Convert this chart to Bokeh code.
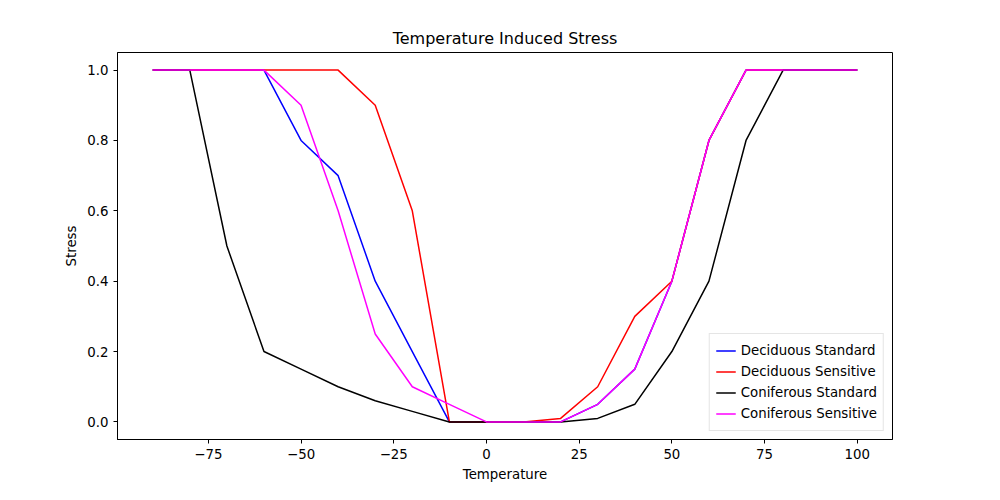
from bokeh.plotting import figure
from bokeh.models import Range1d, FixedTicker, Legend, NumeralTickFormatter
from bokeh.embed import file_html
from bokeh.resources import INLINE

temps = [-90, -80, -70, -60, -50, -40, -30, -20, -10, 0, 10, 20, 30, 40, 50, 60, 70, 80, 90, 100]
decid_std = [1, 1, 1, 1, 0.8, 0.7, 0.4, 0.2, 0, 0, 0, 0, 0.05, 0.15, 0.4, 0.8, 1, 1, 1, 1]
decid_sens = [1, 1, 1, 1, 1, 1, 0.9, 0.6, 0, 0, 0, 0.01, 0.1, 0.3, 0.4, 0.8, 1, 1, 1, 1]
conif_std = [1, 1, 0.5, 0.2, 0.15, 0.1, 0.06, 0.03, 0, 0, 0, 0, 0.01, 0.05, 0.2, 0.4, 0.8, 1, 1, 1]
conif_sens = [1, 1, 1, 1, 0.9, 0.6, 0.25, 0.1, 0.05, 0, 0, 0, 0.05, 0.15, 0.4, 0.8, 1, 1, 1, 1]

series = [
    ("Deciduous Standard", decid_std, "blue"),
    ("Deciduous Sensitive", decid_sens, "red"),
    ("Coniferous Standard", conif_std, "black"),
    ("Coniferous Sensitive", conif_sens, "magenta"),
]

font = "DejaVu Sans"
p = figure(width=984, height=484, output_backend="svg", toolbar_location=None,
           x_range=Range1d(-99.5, 109.5), y_range=Range1d(-0.05, 1.05),
           min_border_left=117, min_border_right=92, min_border_top=52, min_border_bottom=39,
           title="Temperature Induced Stress")
p.title.align = "center"
p.title.text_font = font
p.title.text_font_size = "12pt"
p.title.text_font_style = "normal"
p.title.text_color = "black"
p.xgrid.visible = False
p.ygrid.visible = False
p.outline_line_color = "black"
p.xaxis.ticker = FixedTicker(ticks=[-75, -50, -25, 0, 25, 50, 75, 100])
p.yaxis.ticker = FixedTicker(ticks=[0, 0.2, 0.4, 0.6, 0.8, 1.0])
p.yaxis.formatter = NumeralTickFormatter(format="0.0")
p.xaxis.axis_label = "Temperature"
p.yaxis.axis_label = "Stress"
for ax in (p.xaxis, p.yaxis):
    ax.axis_label_text_font = font
    ax.axis_label_text_font_style = "normal"
    ax.axis_label_text_font_size = "10pt"
    ax.axis_label_text_color = "black"
    ax.major_label_text_font = font
    ax.major_label_text_font_size = "10pt"
    ax.major_label_text_color = "black"
    ax.minor_tick_line_color = None
    ax.major_tick_in = 0
    ax.major_tick_out = 4
    ax.axis_line_color = "black"

items = []
for name, ys, col in series:
    r = p.line(temps, ys, line_color=col, line_width=1.5)
    items.append((name, [r]))

legend = Legend(items=items, location="bottom_right", label_text_font=font,
                label_text_font_size="10pt", label_text_color="black",
                border_line_color="#cccccc",
                spacing=0, padding=6, glyph_height=21, label_height=21, margin=8)
p.add_layout(legend)

open("out.html", "w").write(file_html(p, INLINE))
